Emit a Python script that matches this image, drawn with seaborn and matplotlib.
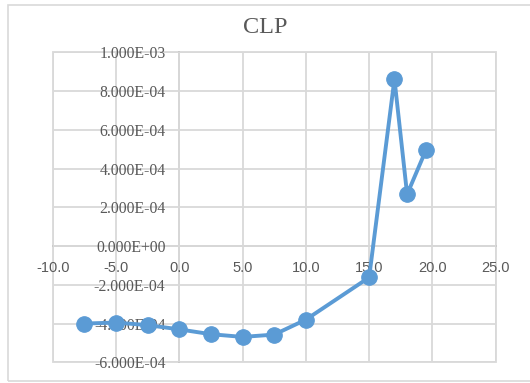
import matplotlib
matplotlib.use("Agg")
import matplotlib.pyplot as plt
from matplotlib.patches import Rectangle
from matplotlib.ticker import FixedLocator, FuncFormatter
import pandas as pd
import seaborn as sns

# CLP coefficient against angle
angle = [-7.5, -5.0, -2.5, 0.0, 2.5, 5.0, 7.5, 10.0, 15.0, 17.0, 18.0, 19.5]
clp = [-4.00e-4, -3.95e-4, -4.08e-4, -4.30e-4, -4.55e-4, -4.69e-4,
       -4.57e-4, -3.80e-4, -1.62e-4, 8.62e-4, 2.67e-4, 4.97e-4]
x_ticks = [-10, -5, 0, 5, 10, 15, 20, 25]
y_ticks = [-6e-4, -4e-4, -2e-4, 0.0, 2e-4, 4e-4, 6e-4, 8e-4, 1e-3]
title = "CLP"

df = pd.DataFrame({"angle": angle, "clp": clp})

sns.set_theme(style="white")
plt.rcParams["font.family"] = ["Liberation Serif", "DejaVu Sans"]

W, H = 530, 383
fig = plt.figure(figsize=(W / 100, H / 100), dpi=100)
fig.patch.set_facecolor("white")

# chart area frame
fig.add_artist(Rectangle((7.5 / W, 1 - 381 / H), 1.0, (381 - 4.7) / H,
                         transform=fig.transFigure, fill=False,
                         edgecolor="#d9d9d9", linewidth=1.2))

left, right, top, bottom = 52.7, 495.7, 52.3, 362.3
ax = fig.add_axes([left / W, 1 - bottom / H, (right - left) / W, (bottom - top) / H])
ax.set_axisbelow(True)

blue = "#5b9bd5"
sns.lineplot(data=df, x="angle", y="clp", ax=ax, color=blue, linewidth=2.8,
             marker="o", markersize=11.2, markeredgecolor=blue,
             markerfacecolor=blue, zorder=3, clip_on=False)

ax.set_xlim(-10, 25)
ax.set_ylim(-6e-4, 1e-3)
ax.xaxis.set_major_locator(FixedLocator(x_ticks))
ax.yaxis.set_major_locator(FixedLocator(y_ticks))
ax.xaxis.set_major_formatter(FuncFormatter(lambda v, p: f"{v:.1f}"))
ax.yaxis.set_major_formatter(FuncFormatter(lambda v, p: f"{v:.3E}"))
ax.grid(True, color="#d9d9d9", linewidth=1.3)
ax.set_xlabel("")
ax.set_ylabel("")

# axes cross at the origin
ax.spines["left"].set_position(("data", 0))
ax.spines["bottom"].set_position(("data", 0))
for s in ("left", "bottom"):
    ax.spines[s].set_color("#c8c8c8")
    ax.spines[s].set_linewidth(1.3)
    ax.spines[s].set_zorder(0.3)
for s in ("top", "right"):
    ax.spines[s].set_visible(False)
ax.add_artist(Rectangle((0, 0), 1, 1, transform=ax.transAxes, fill=False,
                        edgecolor="#d9d9d9", linewidth=1.3, clip_on=False,
                        zorder=0.3))

ax.tick_params(axis="both", length=0, colors="#595959")
ax.tick_params(axis="y", pad=10, labelsize=11.3)
ax.tick_params(axis="x", pad=10.5, labelsize=10.5)
for lbl in ax.get_xticklabels():
    lbl.set_fontfamily(["Liberation Sans", "DejaVu Sans"])

fig.text(265 / W, 1 - 33 / H, title, ha="center", va="baseline",
         fontsize=17.5, color="#595959", family=["Liberation Serif", "DejaVu Sans"])

fig.savefig("out.png", dpi=100)
